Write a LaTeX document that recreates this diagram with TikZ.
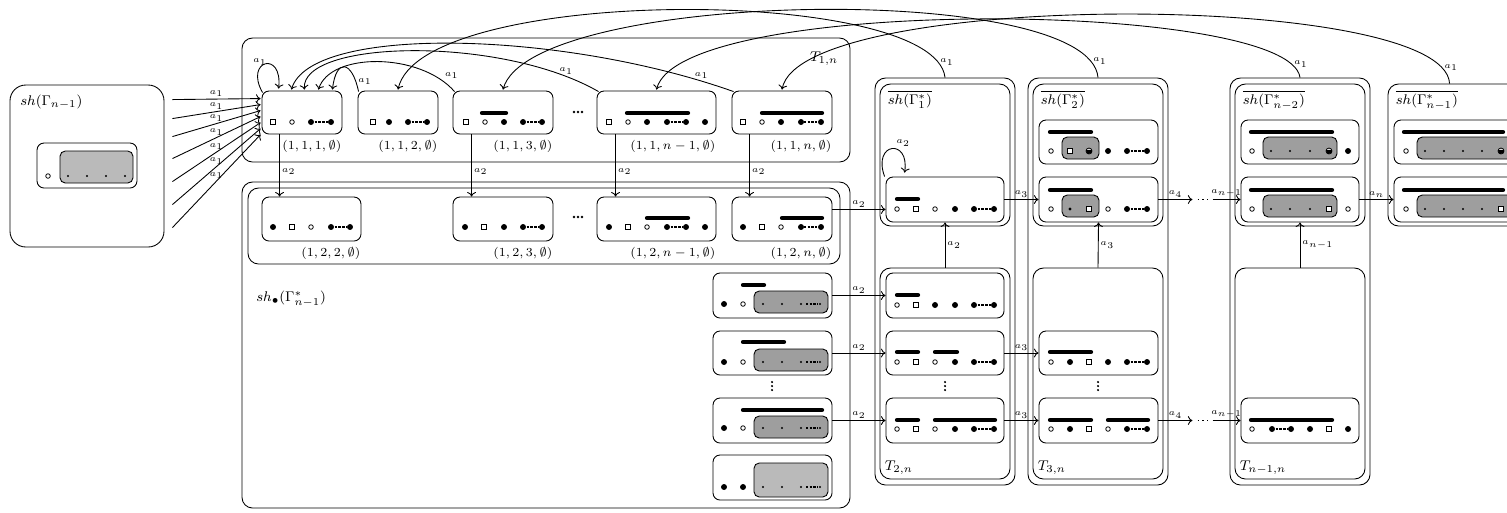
\documentclass[tikz,border=0pt]{standalone}
\usepackage{amsmath,amssymb}
\usetikzlibrary{arrows.meta,fit,calc}

\colorlet{shadeA}{black!38}
\colorlet{shadeB}{black!27}

% small marks used inside the states
\newcommand{\Fd}[2]{\fill (#1,#2) circle (1.7pt);}
\newcommand{\Ed}[2]{\draw[line width=.45pt,fill=white] (#1,#2) circle (1.3pt);}
\newcommand{\Sq}[2]{\draw[line width=.5pt,fill=white] (#1,#2) +(-2.6,-2.6) rectangle +(2.6,2.6);}
\newcommand{\Td}[2]{\fill (#1,#2) circle (0.6pt);}
\newcommand{\Hd}[2]{\draw[line width=.45pt,fill=white] (#1,#2) circle (1.7pt); \fill (#1,#2) ++(-1.6pt,.6pt) arc (160:380:1.7pt) -- cycle;}
\newcommand{\Thick}[3]{\draw[line width=2.4pt,line cap=round] (#1,#3) -- (#2,#3);}
\newcommand{\Dsh}[3]{\draw[line width=1.5pt,dash pattern=on 1.3pt off .9pt] ({#1+3.5},#3) -- ({#2-3},#3);}
\newcommand{\Dst}[3]{\draw[line width=1pt,dash pattern=on 1.3pt off .8pt] ({#1+3},#3) -- ({#2-2.5},#3);}
\newcommand{\Vd}[2]{\fill (#1,{#2-4}) circle (.7pt) (#1,#2) circle (.7pt) (#1,{#2+4}) circle (.7pt);}
\newcommand{\Hdts}[2]{\fill ({#1-4},#2) circle (.8pt) (#1,#2) circle (.8pt) ({#1+4},#2) circle (.8pt);}

\tikzset{
  st/.style={draw,rounded corners=4pt,inner sep=0pt},
  pan/.style={draw,rounded corners=6pt,inner sep=0pt},
  lab/.style={anchor=north east,font=\scriptsize,inner sep=1pt},
  arr/.style={font=\tiny,inner sep=1pt},
}

\begin{document}
\begin{tikzpicture}[x=0.02cm,y=-0.02cm,>={To[length=2.6pt,width=5pt]},line width=0.5pt]
\useasboundingbox (0,0) rectangle (1507,512);
\clip (0,0) rectangle (1507,512);

% sh(Gamma_{n-1})
\node[pan,rounded corners=9pt,fit={(10,85) (164,247)}] (lft) {};
\node[anchor=west,font=\footnotesize] (lftl) at (14,102) {$sh(\Gamma_{n-1})$};
\node[st,fit={(37,143) (137,188)}] (lin) {};
\draw[fill=shadeB,rounded corners=3pt] (60,151) rectangle (133,183);
\Ed{48}{176} \Td{68}{176} \Td{87}{176} \Td{106}{176} \Td{125}{176}

% T_{1,n}
\node[pan,fit={(242,38) (850,162)}] (t1) {};
\node[anchor=north east,font=\footnotesize] (t1l) at ($(t1.north east)+(-6,8)$) {$T_{1,n}$};
\node[st,fit={(262,91) (342,134)}] (b111) {};
\Sq{273}{122} \Ed{292}{122} \Fd{311}{122} \Dsh{311}{331}{122} \Fd{331}{122}
\node[st,fit={(358,91) (438,134)}] (b112) {};
\Sq{373}{122} \Fd{389}{122} \Fd{408}{122} \Dsh{408}{427}{122} \Fd{427}{122}
\node[st,fit={(453,91) (553,134)}] (b113) {};
\Thick{482}{506}{113}
\Sq{466}{122} \Ed{485}{122} \Fd{504}{122} \Fd{523}{122} \Dsh{523}{542}{122} \Fd{542}{122}
\Hdts{578}{112}
\node[st,fit={(597,91) (716,134)}] (b11m) {};
\Thick{627}{688}{113}
\Sq{609}{122} \Ed{628}{122} \Fd{647}{122} \Fd{667}{122} \Dsh{667}{686}{122} \Fd{686}{122} \Fd{705}{122}
\node[st,fit={(732,91) (832,134)}] (b11n) {};
\Thick{762}{822}{113}
\Sq{743}{122} \Ed{762}{122} \Fd{781}{122} \Fd{801}{122} \Dst{801}{821}{122} \Fd{821}{122}
\node[lab] at ($(b111.south east)+(1,4)$) {$(1,1,1,\emptyset)$};
\node[lab] at ($(b112.south east)+(1,4)$) {$(1,1,2,\emptyset)$};
\node[lab] at ($(b113.south east)+(1,4)$) {$(1,1,3,\emptyset)$};
\node[lab] at ($(b11m.south east)+(1,4)$) {$(1,1,n-1,\emptyset)$};
\node[lab] at ($(b11n.south east)+(1,4)$) {$(1,1,n,\emptyset)$};

% sh_bullet(Gamma*_{n-1})
\node[pan,fit={(242,182) (850,508)}] (shb) {};
\node[anchor=west,font=\footnotesize] (shbl) at (250,299) {$sh_{\bullet}(\Gamma^*_{n-1})$};
\node[pan,fit={(248,188) (840,264)}] (row2) {};
\node[st,fit={(262,197) (361,241)}] (b122) {};
\Fd{273}{227} \Sq{292}{227} \Ed{311}{227} \Fd{331}{227} \Dsh{331}{350}{227} \Fd{350}{227}
\node[st,fit={(453,197) (553,241)}] (b123) {};
\Fd{465}{227} \Sq{484}{227} \Fd{504}{227} \Fd{523}{227} \Dsh{523}{542}{227} \Fd{542}{227}
\Hdts{578}{217}
\node[st,fit={(597,197) (716,241)}] (b12m) {};
\Thick{647}{688}{218}
\Fd{609}{227} \Sq{628}{227} \Ed{647}{227} \Fd{667}{227} \Dsh{667}{686}{227} \Fd{686}{227} \Fd{705}{227}
\node[st,fit={(732,197) (832,241)}] (b12n) {};
\Thick{782}{822}{218}
\Fd{743}{227} \Sq{762}{227} \Ed{781}{227} \Fd{801}{227} \Dst{801}{821}{227} \Fd{821}{227}
\node[lab] at ($(b122.south east)+(1,4)$) {$(1,2,2,\emptyset)$};
\node[lab] at ($(b123.south east)+(1,4)$) {$(1,2,3,\emptyset)$};
\node[lab] at ($(b12m.south east)+(1,4)$) {$(1,2,n-1,\emptyset)$};
\node[lab] at ($(b12n.south east)+(1,4)$) {$(1,2,n,\emptyset)$};

\node[st,fit={(713,273) (832,318)}] (c1) {};
\Thick{743}{764}{285}
\draw[fill=shadeA,rounded corners=3pt] (754,291) rectangle (828,313);
\Fd{724}{304} \Ed{743}{304} \Td{763}{304} \Td{782}{304} \Td{801}{304} \Dst{803}{820}{304} \Td{820}{304}
\node[st,fit={(713,331) (832,375)}] (c2) {};
\Thick{743}{784}{342}
\draw[fill=shadeA,rounded corners=3pt] (754,349) rectangle (828,371);
\Fd{724}{362} \Ed{743}{362} \Td{763}{362} \Td{782}{362} \Td{801}{362} \Dst{803}{820}{362} \Td{820}{362}
\Vd{772}{386}
\node[st,fit={(713,398) (832,443)}] (c3) {};
\Thick{743}{822}{410}
\draw[fill=shadeA,rounded corners=3pt] (754,416) rectangle (828,438);
\Fd{724}{428} \Ed{743}{428} \Td{763}{428} \Td{782}{428} \Td{801}{428} \Dst{803}{820}{428} \Td{820}{428}
\node[st,fit={(713,455) (832,500)}] (c4) {};
\draw[fill=shadeB,rounded corners=3pt] (754,463) rectangle (828,497);
\Fd{724}{487} \Fd{743}{487} \Td{763}{487} \Td{782}{487} \Td{801}{487} \Dst{803}{820}{487} \Td{820}{487}

% T_{2,n}
\node[pan,fit={(875,78) (1015,485)}] (t2out) {};
\node[pan,fit={(880,84) (1010,226)}] (s1) {};
\node[pan,fit={(880,268) (1010,479)}] (t2low) {};
\node[anchor=north west,font=\footnotesize,inner sep=1pt] at ($(s1.north west)+(6,5)$) {$\overline{sh(\Gamma_1^*)}$};
\node[anchor=south west,font=\footnotesize,inner sep=1pt] at ($(t2low.south west)+(3,-3)$) {$T_{2,n}$};
\node[st,fit={(886,177) (1004,222)}] (d1) {};
\Thick{897}{918}{199}
\Ed{897}{209} \Sq{916}{209} \Ed{935}{209} \Fd{955}{209} \Fd{974}{209} \Dsh{974}{994}{209} \Fd{994}{209}
\node[st,fit={(886,273) (1004,318)}] (d2) {};
\Thick{897}{918}{295}
\Ed{897}{305} \Sq{916}{305} \Fd{935}{305} \Fd{955}{305} \Fd{974}{305} \Dsh{974}{994}{305} \Fd{994}{305}
\node[st,fit={(886,331) (1004,375)}] (d3) {};
\Thick{897}{918}{352} \Thick{935}{957}{352}
\Ed{897}{362} \Sq{916}{362} \Ed{935}{362} \Fd{955}{362} \Fd{974}{362} \Dsh{974}{994}{362} \Fd{994}{362}
\Vd{945}{386}
\node[st,fit={(886,398) (1004,443)}] (d4) {};
\Thick{897}{918}{420} \Thick{935}{995}{420}
\Ed{897}{429} \Sq{916}{429} \Ed{935}{429} \Fd{955}{429} \Fd{974}{429} \Dsh{974}{994}{429} \Fd{994}{429}

% T_{3,n}
\node[pan,fit={(1028,78) (1168,485)}] (t3out) {};
\node[pan,fit={(1033,84) (1163,226)}] (s2) {};
\node[pan,fit={(1033,268) (1163,479)}] (t3low) {};
\node[anchor=north west,font=\footnotesize,inner sep=1pt] at ($(s2.north west)+(6,5)$) {$\overline{sh(\Gamma_2^*)}$};
\node[anchor=south west,font=\footnotesize,inner sep=1pt] at ($(t3low.south west)+(3,-3)$) {$T_{3,n}$};
\node[st,fit={(1039,120) (1158,164)}] (e1) {};
\Thick{1050}{1091}{132}
\draw[fill=shadeA,rounded corners=3pt] (1062,137) rectangle (1099,159);
\Ed{1051}{151} \Sq{1070}{151} \Hd{1089}{151} \Fd{1108}{151} \Fd{1127}{151} \Dsh{1127}{1147}{151} \Fd{1147}{151}
\node[st,fit={(1039,177) (1158,222)}] (e2) {};
\Thick{1050}{1091}{190}
\draw[fill=shadeA,rounded corners=3pt] (1062,195) rectangle (1099,217);
\Ed{1051}{209} \fill (1070,209) circle (.9pt); \Sq{1089}{209} \Ed{1108}{209} \Fd{1127}{209} \Dsh{1127}{1147}{209} \Fd{1147}{209}
\node[st,fit={(1039,331) (1158,375)}] (e3) {};
\Thick{1050}{1091}{352}
\Ed{1051}{362} \Fd{1070}{362} \Sq{1089}{362} \Fd{1108}{362} \Fd{1127}{362} \Dsh{1127}{1147}{362} \Fd{1147}{362}
\Vd{1098}{386}
\node[st,fit={(1039,398) (1158,443)}] (e4) {};
\Thick{1050}{1091}{420} \Thick{1108}{1148}{420}
\Ed{1051}{429} \Fd{1070}{429} \Sq{1089}{429} \Ed{1108}{429} \Fd{1127}{429} \Dsh{1127}{1147}{429} \Fd{1147}{429}

% T_{n-1,n}
\node[pan,fit={(1230,78) (1370,485)}] (tmout) {};
\node[pan,fit={(1235,84) (1365,226)}] (sm) {};
\node[pan,fit={(1235,268) (1365,479)}] (tmlow) {};
\node[anchor=north west,font=\footnotesize,inner sep=1pt] at ($(sm.north west)+(6,5)$) {$\overline{sh(\Gamma_{n-2}^*)}$};
\node[anchor=south west,font=\footnotesize,inner sep=1pt] at ($(tmlow.south west)+(3,-3)$) {$T_{n-1,n}$};
\node[st,fit={(1241,120) (1359,164)}] (f1) {};
\Thick{1251}{1332}{132}
\draw[fill=shadeA,rounded corners=3pt] (1263,137) rectangle (1337,159);
\Ed{1252}{151} \Td{1271}{151} \Td{1290}{151} \Td{1310}{151} \Hd{1329}{151} \Fd{1348}{151}
\node[st,fit={(1241,177) (1359,222)}] (f2) {};
\Thick{1251}{1332}{190}
\draw[fill=shadeA,rounded corners=3pt] (1263,195) rectangle (1337,217);
\Ed{1252}{209} \Td{1271}{209} \Td{1290}{209} \Td{1310}{209} \Sq{1329}{209} \Ed{1348}{209}
\node[st,fit={(1241,398) (1359,443)}] (f4) {};
\Thick{1251}{1332}{420}
\Ed{1252}{429} \Fd{1272}{429} \Dsh{1272}{1291}{429} \Fd{1291}{429} \Fd{1310}{429} \Sq{1329}{429} \Fd{1348}{429}

% sh(Gamma*_{n-1})
\node[pan,fit={(1388,84) (1540,226)}] (sl) {};
\node[anchor=north west,font=\footnotesize,inner sep=1pt] at ($(sl.north west)+(6,5)$) {$\overline{sh(\Gamma_{n-1}^*)}$};
\node[st,fit={(1394,120) (1530,164)}] (g1) {};
\Thick{1404}{1503}{132}
\draw[fill=shadeA,rounded corners=3pt] (1417,137) rectangle (1525,159);
\Ed{1406}{151} \Td{1425}{151} \Td{1444}{151} \Td{1463}{151} \Td{1482}{151} \Hd{1501}{151}
\node[st,fit={(1394,177) (1530,222)}] (g2) {};
\Thick{1404}{1503}{190}
\draw[fill=shadeA,rounded corners=3pt] (1417,195) rectangle (1525,217);
\Ed{1406}{209} \Td{1425}{209} \Td{1444}{209} \Td{1463}{209} \Td{1482}{209} \Sq{1501}{209}

% a_1 into (1,1,1,emptyset)
\foreach \s/\e in {15/8,34/14,52/20,74/26,97/32,120/38,143/44}
  \draw[->] ($(lft.north east)+(8,\s)$) -- ($(b111.north west)+(-1,\e)$) node[arr,midway,above]{$a_1$};
\draw[->] ($(b111.north west)+(1,2)$) .. controls (244,60) and (283,50) .. ($(b111.north west)+(17,-2)$) node[arr,pos=.35,above]{$a_1$};
\draw[->] ($(b112.north west)+(1,1)$) .. controls (352,60) and (336,58) .. ($(b111.north east)+(-10,-1)$) node[arr,pos=.12,right]{$a_1$};
\draw[->] ($(b113.north west)+(2,1)$) .. controls (420,52) and (330,52) .. ($(b111.north east)+(-24,-1)$) node[arr,pos=.1,above right]{$a_1$};
\draw[->] ($(b11m.north west)+(2,1)$) .. controls (500,35) and (300,40) .. ($(b111.north east)+(-38,-1)$) node[arr,pos=.1,above]{$a_1$};
\draw[->] ($(b11n.north west)+(2,1)$) .. controls (560,30) and (310,25) .. ($(b111.north east)+(-51,-1)$) node[arr,pos=.06,above]{$a_1$};

% a_1 from the columns
\draw[->] (t2out.north) .. controls (935,-15) and (420,-15) .. ($(b112.north)+(0,-1)$) node[arr,pos=.06,right]{$a_1$};
\draw[->] (t3out.north) .. controls (1090,-20) and (530,-10) .. ($(b113.north)+(0,-1)$) node[arr,pos=.06,right]{$a_1$};
\draw[->] (tmout.north) .. controls (1290,0) and (680,-5) .. ($(b11m.north)+(0,-1)$) node[arr,pos=.06,right]{$a_1$};
\draw[->] ($(sl.north west)+(62,0)$) .. controls (1445,-10) and (800,-10) .. ($(b11n.north)+(0,-1)$) node[arr,pos=.06,right]{$a_1$};

% a_2 down
\draw[->] ($(b111.south west)+(18,0)$) -- ($(b122.north west)+(18,0)$) node[arr,pos=.6,right]{$a_2$};
\draw[->] ($(b113.south west)+(19,0)$) -- ($(b123.north west)+(19,0)$) node[arr,pos=.6,right]{$a_2$};
\draw[->] ($(b11m.south west)+(19,0)$) -- ($(b12m.north west)+(19,0)$) node[arr,pos=.6,right]{$a_2$};
\draw[->] ($(b11n.south west)+(18,0)$) -- ($(b12n.north west)+(18,0)$) node[arr,pos=.6,right]{$a_2$};

% a_2 into T_{2,n}
\coordinate (d1in) at ($(d1.south west)+(0,-13)$);
\draw[->] (b12n.east |- d1in) -- (d1in) node[arr,midway,above]{$a_2$};
\draw[->] (c1.east) -- (d2.west) node[arr,midway,above]{$a_2$};
\draw[->] (c2.east) -- (d3.west) node[arr,midway,above]{$a_2$};
\draw[->] (c3.east) -- (d4.west) node[arr,midway,above]{$a_2$};
\draw[->] ($(d1.north west)+(-1,0)$) .. controls (872,142) and (910,138) .. ($(d1.north west)+(19,-4)$) node[arr,pos=.55,above right]{$a_2$};
\draw[->] (t2low.north) -- (d1.south) node[arr,midway,right]{$a_2$};

% a_3
\draw[->] (d1.east) -- (e2.west) node[arr,midway,above]{$a_3$};
\draw[->] (d3.east) -- (e3.west) node[arr,midway,above]{$a_3$};
\draw[->] (d4.east) -- (e4.west) node[arr,midway,above]{$a_3$};
\draw[->] (t3low.north) -- (e2.south) node[arr,midway,right]{$a_3$};

% a_4 ... a_{n-1}
\coordinate (p1) at ($(e2.east)+(34,0)$);
\coordinate (p2) at ($(f2.west)+(-28,0)$);
\draw[->] (e2.east) -- (p1) node[arr,midway,above]{$a_4$};
\draw[dotted,line width=.7pt,shorten <=3,shorten >=2] (p1) -- (p2);
\draw[->] (p2) -- (f2.west) node[arr,midway,above]{$a_{n-1}$};
\coordinate (q1) at ($(e4.east)+(34,0)$);
\coordinate (q2) at ($(f4.west)+(-28,0)$);
\draw[->] (e4.east) -- (q1) node[arr,midway,above]{$a_4$};
\draw[dotted,line width=.7pt,shorten <=3,shorten >=2] (q1) -- (q2);
\draw[->] (q2) -- (f4.west) node[arr,midway,above]{$a_{n-1}$};
\draw[->] (tmlow.north) -- (f2.south) node[arr,midway,right]{$a_{n-1}$};

% a_n
\draw[->] (f2.east) -- (g2.west) node[arr,midway,above]{$a_n$};
\end{tikzpicture}
\end{document}
